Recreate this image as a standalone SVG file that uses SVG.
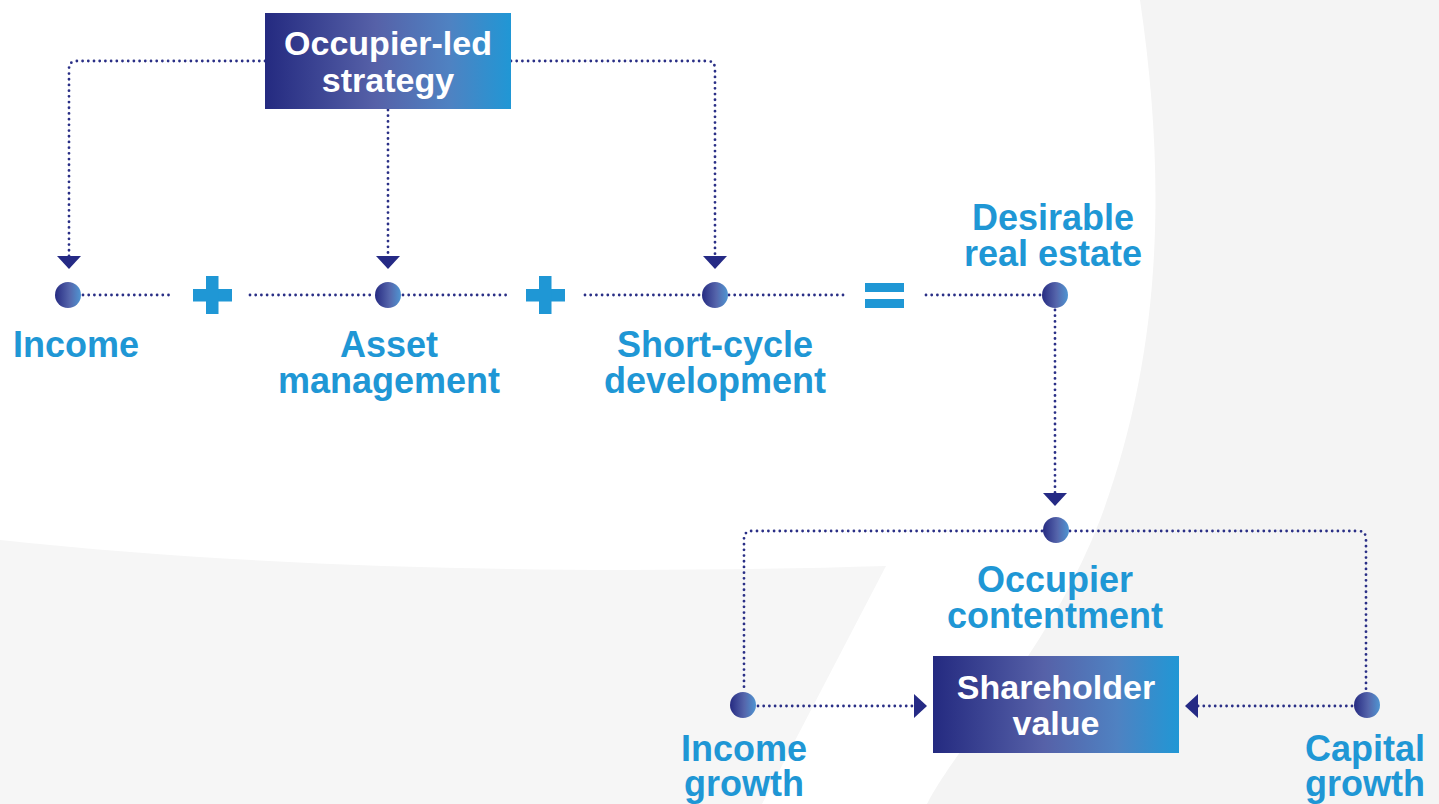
<svg xmlns="http://www.w3.org/2000/svg" width="1439" height="804" viewBox="0 0 1439 804">
  <defs>
    <linearGradient id="boxGrad" x1="0" y1="0" x2="1" y2="0">
      <stop offset="0" stop-color="#242a80"/>
      <stop offset="0.45" stop-color="#5661a8"/>
      <stop offset="0.75" stop-color="#4f82c2"/>
      <stop offset="1" stop-color="#2097d5"/>
    </linearGradient>
    <linearGradient id="ballGrad" x1="0" y1="0" x2="1" y2="0">
      <stop offset="0" stop-color="#262b82"/>
      <stop offset="0.55" stop-color="#5565ab"/>
      <stop offset="1" stop-color="#4f95d2"/>
    </linearGradient>
    <marker id="tri" viewBox="0 0 13 24" refX="0" refY="12" markerWidth="13" markerHeight="24" markerUnits="userSpaceOnUse" orient="auto">
      <path d="M0,0 L13,12 L0,24 Z" fill="#252a85"/>
    </marker>
    <style>
      .link { fill: none; stroke: #2a2f86; stroke-width: 2.8; stroke-dasharray: 0 5.7; stroke-linecap: round; }
      .arrow { marker-end: url(#tri); }
      .ball { fill: url(#ballGrad); }
      .box { fill: url(#boxGrad); }
      .lbl { font-family: "Liberation Sans", Arial, sans-serif; font-weight: bold; font-size: 36px; fill: #1f97d5; text-anchor: middle; }
      .boxtxt { font-family: "Liberation Sans", Arial, sans-serif; font-weight: bold; font-size: 34px; fill: #ffffff; text-anchor: middle; }
      .op { fill: #1f97d5; }
    </style>
  </defs>

  <!-- background panels -->
  <rect width="1439" height="804" fill="#ffffff"/>
  <path d="M0,540 C300,572 620,574 886,566 L762,804 L0,804 Z" fill="#f6f6f6"/>
  <path d="M1140,0 C1168,190 1160,360 1100,520 C1050,650 960,740 927,804 L1439,804 L1439,0 Z" fill="#f4f4f4"/>

  <!-- connectors -->
  <g id="connectors">
    <path class="link arrow" d="M265,61 H77 Q69,61 69,69 V256"/>
    <path class="link arrow" d="M388,110 V256"/>
    <path class="link arrow" d="M511,61 H707 Q715,61 715,69 V256"/>
    <path class="link" d="M83,295 H173"/>
    <path class="link" d="M250,295 H374"/>
    <path class="link" d="M403,295 H507"/>
    <path class="link" d="M585,295 H700"/>
    <path class="link" d="M729,295 H846"/>
    <path class="link" d="M926,295 H1041"/>
    <path class="link arrow" d="M1055,310 V493"/>
    <path class="link" d="M1042,531 H752 Q744,531 744,539 V691"/>
    <path class="link" d="M1070,531 H1358 Q1366,531 1366,539 V691"/>
    <path class="link arrow" d="M758,706 H914"/>
    <path class="link arrow" d="M1352,706 H1198"/>
  </g>

  <!-- operators -->
  <g id="plus-1" class="op">
    <rect x="193" y="289" width="39" height="12.5"/>
    <rect x="206" y="276" width="12.5" height="38"/>
  </g>
  <g id="plus-2" class="op">
    <rect x="526" y="289" width="39" height="12.5"/>
    <rect x="539" y="276" width="12.5" height="38"/>
  </g>
  <g id="equals" class="op">
    <rect x="865" y="283" width="39" height="9"/>
    <rect x="865" y="299" width="39" height="9"/>
  </g>

  <!-- nodes -->
  <g id="occupier-led-strategy">
    <rect class="box" x="265" y="13" width="246" height="96"/>
    <text class="boxtxt" x="388" y="55">Occupier-led<tspan x="388" dy="37">strategy</tspan></text>
  </g>

  <g id="income">
    <circle class="ball" cx="68" cy="295" r="13"/>
    <text class="lbl" x="76" y="357">Income</text>
  </g>

  <g id="asset-management">
    <circle class="ball" cx="388" cy="295" r="13"/>
    <text class="lbl" x="389" y="357">Asset<tspan x="389" dy="36">management</tspan></text>
  </g>

  <g id="short-cycle-development">
    <circle class="ball" cx="715" cy="295" r="13"/>
    <text class="lbl" x="715" y="357">Short-cycle<tspan x="715" dy="36">development</tspan></text>
  </g>

  <g id="desirable-real-estate">
    <circle class="ball" cx="1055" cy="295" r="13"/>
    <text class="lbl" x="1053" y="230">Desirable<tspan x="1053" dy="36">real estate</tspan></text>
  </g>

  <g id="occupier-contentment">
    <circle class="ball" cx="1056" cy="530" r="13"/>
    <text class="lbl" x="1055" y="592">Occupier<tspan x="1055" dy="36">contentment</tspan></text>
  </g>

  <g id="income-growth">
    <circle class="ball" cx="743" cy="705" r="13"/>
    <text class="lbl" x="744" y="761">Income<tspan x="744" dy="35">growth</tspan></text>
  </g>

  <g id="capital-growth">
    <circle class="ball" cx="1367" cy="705" r="13"/>
    <text class="lbl" x="1365" y="761">Capital<tspan x="1365" dy="35">growth</tspan></text>
  </g>

  <g id="shareholder-value">
    <rect class="box" x="933" y="656" width="246" height="97"/>
    <text class="boxtxt" x="1056" y="699">Shareholder<tspan x="1056" dy="36">value</tspan></text>
  </g>
</svg>
